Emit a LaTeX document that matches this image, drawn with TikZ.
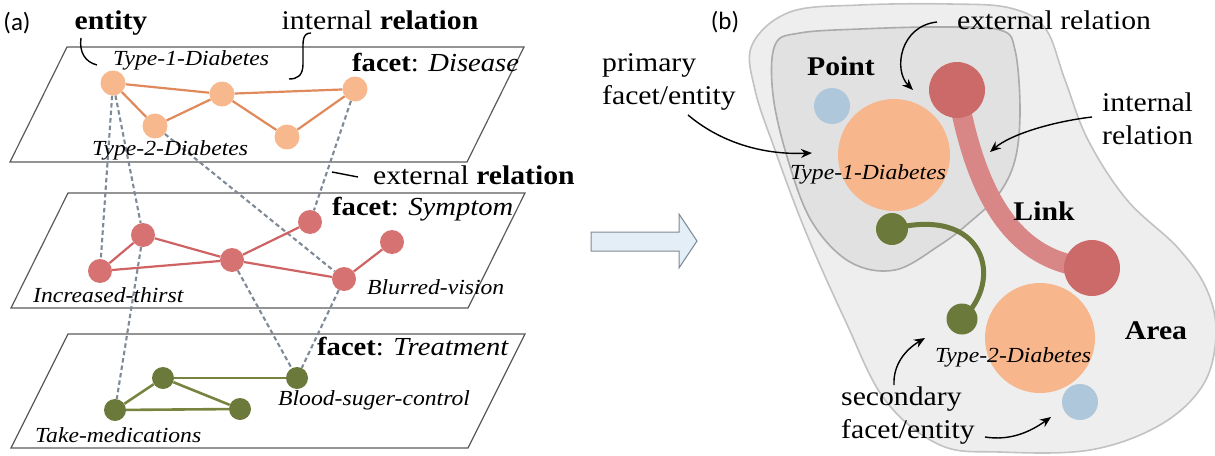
\documentclass[tikz,border=0pt]{standalone}
\usepackage{fontspec}
\setmainfont{Liberation Serif}[FakeStretch=1.1]
\newfontfamily\panelfont{Carlito}
\usetikzlibrary{arrows.meta,shapes.geometric}
\pgfdeclarelayer{bg}
\pgfsetlayers{bg,main}
\definecolor{orfill}{HTML}{F8B88E}
\definecolor{orline}{HTML}{E0895A}
\definecolor{rdfill}{HTML}{D77272}
\definecolor{rdline}{HTML}{CF6262}
\definecolor{gnfill}{HTML}{6B7A3A}
\definecolor{gnline}{HTML}{76843F}
\definecolor{dashc}{HTML}{7F8A96}
\definecolor{planec}{HTML}{5A5A5A}
\definecolor{outerfill}{HTML}{EEEEEE}
\definecolor{outerline}{HTML}{C2C2C2}
\definecolor{innerfill}{HTML}{E1E1E1}
\definecolor{innerline}{HTML}{ABABAB}
\definecolor{bluefill}{HTML}{AEC7DB}
\definecolor{bigor}{HTML}{F7B68C}
\definecolor{redc}{HTML}{CC6A6A}
\definecolor{linkc}{HTML}{D88686}
\definecolor{arrfill}{HTML}{E4EEF7}
\definecolor{arrline}{HTML}{7F8A96}
\tikzset{
  plane/.style={draw=planec, line width=1.2pt},
  onode/.style={circle, fill=orfill, inner sep=0pt, minimum size=25pt},
  rnode/.style={circle, fill=rdfill, inner sep=0pt, minimum size=24pt},
  gnode/.style={circle, fill=gnfill, inner sep=0pt, minimum size=22pt},
  oedge/.style={orline, line width=2.2pt},
  redge/.style={rdline, line width=2.2pt},
  gedge/.style={gnline, line width=2.6pt},
  ext/.style={dashc, line width=2.1pt, dash pattern=on 4.5pt off 3pt},
  lab/.style={font=\fontsize{21.5}{24}\selectfont\itshape, inner sep=0pt, anchor=west},
  big/.style={font=\fontsize{27}{33}\selectfont, inner sep=0pt},
  facetl/.style={font=\fontsize{26}{28}\selectfont, inner sep=0pt, anchor=west},
  panel/.style={font=\fontsize{25}{28}\selectfont\panelfont, inner sep=0pt},
  curl/.style={black, line width=1.4pt},
  note/.style={-{Stealth[length=11pt,width=9pt]}, black, line width=1.4pt},
  blob/.style={line width=1.6pt},
  disc/.style={circle, inner sep=0pt},
}
\begin{document}
\begin{tikzpicture}[x=1pt,y=-1pt]
\useasboundingbox (0,0) rectangle (1215,455);
% ---------------- panel (a) ----------------
\node[panel] (pa) at (17,23) {(a)};
\node[big, font=\fontsize{27}{30}\selectfont\bfseries] (entity) at (111,23) {entity};
\node[big] (intrel) at (380,20) {internal \textbf{relation}};
\node[big, anchor=west] (extrel) at (373,175) {external \textbf{relation}};
% disease nodes
\node[onode] (n1) at (113,83) {};
\node[onode] (n2) at (155,126) {};
\node[onode] (n3) at (222,94) {};
\node[onode] (n4) at (287,137) {};
\node[onode] (n5) at (355,89) {};
% symptom nodes
\node[rnode] (s1) at (100,271) {};
\node[rnode] (s2) at (143,235) {};
\node[rnode] (s3) at (232,260) {};
\node[rnode] (s4) at (310,222) {};
\node[rnode] (s5) at (344,279) {};
\node[rnode] (s6) at (392,242) {};
% treatment nodes
\node[gnode] (t1) at (115,410) {};
\node[gnode] (t2) at (163,378) {};
\node[gnode] (t3) at (297,378) {};
\node[gnode] (t4) at (240,409) {};
% labels
\node[lab] (l1) at (113,60) {Type-1-Diabetes};
\node[lab] (l2) at (92,150) {Type-2-Diabetes};
\node[facetl] (f1) at (352,63) {\textbf{facet}: \textit{Disease}};
\node[facetl] (f2) at (332,209) {\textbf{facet}: \textit{Symptom}};
\node[facetl] (f3) at (317,347) {\textbf{facet}: \textit{Treatment}};
\node[lab] (l3) at (33,295) {Increased-thirst};
\node[lab] (l4) at (367,287) {Blurred-vision};
\node[lab] (l5) at (278,400) {Blood-suger-control};
\node[lab] (l6) at (35,435) {Take-medications};
% annotation curls
\coordinate (ec1) at (81,38);
\coordinate (ec2) at (97,65);
\coordinate (ic1) at (311,33);
\coordinate (ic2) at (289,79);
\coordinate (xc1) at (332,172);
\coordinate (xc2) at (358,177);
\draw[curl] (ec1) .. controls (79,52) and (85,62) .. (ec2);
\draw[curl] (ic1) .. controls (302,33) and (303,42) .. (303,52) -- (303,64) .. controls (303,76) and (297,79) .. (ic2);
\draw[curl] (xc1) -- (xc2);
% ---------------- arrow between panels ----------------
\draw[fill=arrfill, draw=arrline, line width=1pt] (591,232) -- (679,232) -- (679,214) -- (697,241) -- (679,268) -- (679,251) -- (591,251) -- cycle;
% ---------------- panel (b) ----------------
\node[panel] (pb) at (725,22) {(b)};
\node[disc, fill=bluefill, minimum size=36pt] (b1) at (832,106) {};
\node[disc, fill=bigor, minimum size=112pt] (o1) at (894,155) {};
\node[disc, fill=redc, minimum size=56pt] (r1) at (957,90) {};
\node[disc, fill=redc, minimum size=56pt] (r2) at (1092,268) {};
\node[disc, fill=bigor, minimum size=110pt] (o2) at (1040,338) {};
\node[disc, fill=bluefill, minimum size=36pt] (b2) at (1080,402) {};
\node[disc, fill=gnfill, minimum size=32pt] (g1) at (892,229) {};
\node[disc, fill=gnfill, minimum size=31pt] (g2) at (962,319) {};
\node[big, anchor=west] (extb) at (957,20) {external relation};
\node[big, anchor=west, align=left] (prim) at (602,82) {primary\\facet/entity};
\node[big, font=\fontsize{27}{30}\selectfont\bfseries] (point) at (841,66) {Point};
\node[big, anchor=west, align=left] (intb) at (1102,119) {internal\\relation};
\node[lab, anchor=center] (lt1) at (868,174) {Type-1-Diabetes};
\node[big, font=\fontsize{27}{30}\selectfont\bfseries] (link) at (1044,211) {Link};
\node[lab, anchor=center] (lt2) at (1013,357) {Type-2-Diabetes};
\node[big, font=\fontsize{27}{30}\selectfont\bfseries] (area) at (1156,331) {Area};
\node[big, anchor=west, align=left] (sec) at (841,416) {secondary\\facet/entity};
% annotation arrows
\coordinate (ea1) at (937,22);
\coordinate (ea2) at (913,90);
\coordinate (pa1) at (688,115);
\coordinate (pa2) at (812,153);
\coordinate (ia1) at (1092,117);
\coordinate (ia2) at (990,152);
\coordinate (sa1) at (894,385);
\coordinate (sa2) at (925,338);
\coordinate (sb1) at (985,437);
\coordinate (sb2) at (1051,417);
\draw[note] (ea1) .. controls (900,26) and (893,70) .. (ea2);
\draw[note] (pa1) .. controls (720,142) and (762,155) .. (pa2);
\draw[note] (ia1) .. controls (1050,122) and (1010,135) .. (ia2);
\draw[note] (sa1) .. controls (893,365) and (905,350) .. (sa2);
\draw[note] (sb1) .. controls (1010,441) and (1030,432) .. (sb2);
% ---------------- background layer ----------------
\begin{pgfonlayer}{bg}
\draw[plane] (67,47) -- (524,47) -- (467,162) -- (10,162) -- cycle;
\draw[plane] (68,193) -- (525,193) -- (468,308) -- (11,308) -- cycle;
\draw[plane] (68,334) -- (525,334) -- (468,448) -- (11,448) -- cycle;
% external relations
\draw[ext] (n1) -- (s1);
\draw[ext] (n1) -- (s2);
\draw[ext] (n2) -- (s5);
\draw[ext] (n5) -- (s4);
\draw[ext] (s2) -- (t1);
\draw[ext] (s3) -- (t3);
\draw[ext] (s5) -- (t3);
% internal relations
\draw[oedge] (n1) -- (n3);
\draw[oedge] (n3) -- (n5);
\draw[oedge] (n1) -- (n2);
\draw[oedge] (n2) -- (n3);
\draw[oedge] (n3) -- (n4);
\draw[oedge] (n4) -- (n5);
\draw[redge] (s1) -- (s2);
\draw[redge] (s1) -- (s3);
\draw[redge] (s2) -- (s3);
\draw[redge] (s3) -- (s4);
\draw[redge] (s3) -- (s5);
\draw[redge] (s5) -- (s6);
\draw[gedge] (t1) -- (t2);
\draw[gedge] (t1) -- (t4);
\draw[gedge] (t2) -- (t4);
\draw[gedge] (t2) -- (t3);
% blobs
\draw[blob, fill=outerfill, draw=outerline] plot[smooth cycle, tension=0.6] coordinates {
  (752,45) (790,12) (860,5) (950,4) (1010,8) (1045,28) (1065,80) (1088,140)
  (1127,200) (1178,248) (1207,290) (1216,335) (1203,385) (1160,425) (1090,450)
  (1000,452) (940,445) (885,400) (845,320) (805,230) (775,150) (755,90)};
\draw[blob, fill=innerfill, draw=innerline] plot[smooth cycle, tension=0.6] coordinates {
  (775,45) (800,33) (860,29) (940,27) (1000,30) (1015,50) (1020,110) (1015,160)
  (998,195) (970,222) (940,245) (895,270) (850,262) (812,222) (788,160) (773,95)};
\draw[linkc, line width=20pt] (r1.center) .. controls (975,190) and (1010,262) .. (r2.center);
\draw[gnfill, line width=5pt] (g1.center) .. controls (985,205) and (1005,280) .. (g2.center);
\end{pgfonlayer}
\end{tikzpicture}
\end{document}
